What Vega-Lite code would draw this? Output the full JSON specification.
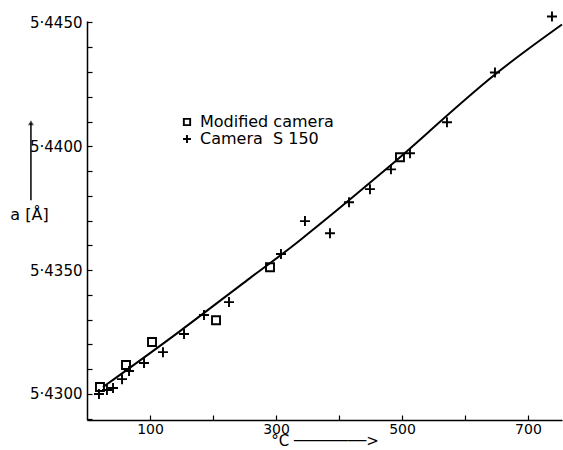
{
  "$schema": "https://vega.github.io/schema/vega-lite/v6.json",
  "width": 475,
  "height": 399,
  "autosize": "none",
  "padding": {"left": 87, "top": 21, "right": 1, "bottom": 30},
  "background": "white",
  "config": {
    "view": {"stroke": null},
    "font": "DejaVu Sans",
    "axis": {
      "grid": false,
      "domainColor": "black",
      "domainWidth": 1.5,
      "tickColor": "black",
      "tickWidth": 1.2,
      "tickSize": -5,
      "labelColor": "black",
      "labelFontSize": 14,
      "titleColor": "black",
      "titleFontWeight": "normal"
    }
  },
  "datasets": {
    "points": [
      {"t": 20.6, "a": 5.43028, "series": "Modified camera"},
      {"t": 61.9, "a": 5.43117, "series": "Modified camera"},
      {"t": 103.2, "a": 5.43210, "series": "Modified camera"},
      {"t": 204.8, "a": 5.43298, "series": "Modified camera"},
      {"t": 290.5, "a": 5.43512, "series": "Modified camera"},
      {"t": 496.8, "a": 5.43956, "series": "Modified camera"},
      {"t": 19.0, "a": 5.43000, "series": "Camera\u00a0 S 150"},
      {"t": 31.7, "a": 5.43016, "series": "Camera\u00a0 S 150"},
      {"t": 41.3, "a": 5.43024, "series": "Camera\u00a0 S 150"},
      {"t": 55.6, "a": 5.43060, "series": "Camera\u00a0 S 150"},
      {"t": 66.7, "a": 5.43093, "series": "Camera\u00a0 S 150"},
      {"t": 90.5, "a": 5.43125, "series": "Camera\u00a0 S 150"},
      {"t": 120.6, "a": 5.43169, "series": "Camera\u00a0 S 150"},
      {"t": 154.0, "a": 5.43242, "series": "Camera\u00a0 S 150"},
      {"t": 185.7, "a": 5.43319, "series": "Camera\u00a0 S 150"},
      {"t": 225.4, "a": 5.43371, "series": "Camera\u00a0 S 150"},
      {"t": 307.9, "a": 5.43565, "series": "Camera\u00a0 S 150"},
      {"t": 346.0, "a": 5.43698, "series": "Camera\u00a0 S 150"},
      {"t": 385.7, "a": 5.43649, "series": "Camera\u00a0 S 150"},
      {"t": 415.9, "a": 5.43774, "series": "Camera\u00a0 S 150"},
      {"t": 449.2, "a": 5.43827, "series": "Camera\u00a0 S 150"},
      {"t": 482.5, "a": 5.43907, "series": "Camera\u00a0 S 150"},
      {"t": 512.7, "a": 5.43972, "series": "Camera\u00a0 S 150"},
      {"t": 571.4, "a": 5.44097, "series": "Camera\u00a0 S 150"},
      {"t": 647.6, "a": 5.44298, "series": "Camera\u00a0 S 150"},
      {"t": 738.1, "a": 5.44524, "series": "Camera\u00a0 S 150"}
    ],
    "curve": [
      {"t": 25.4, "a": 5.43028},
      {"t": 147.6, "a": 5.43254},
      {"t": 258.7, "a": 5.43468},
      {"t": 338.1, "a": 5.43621},
      {"t": 465.1, "a": 5.43887},
      {"t": 544.4, "a": 5.44063},
      {"t": 647.6, "a": 5.44290},
      {"t": 754.0, "a": 5.44492}
    ],
    "arrow": [
      {"t": -89, "a_lo": 5.43782, "a_hi": 5.44095}
    ]
  },
  "layer": [
    {
      "data": {"name": "curve"},
      "mark": {"type": "line", "interpolate": "natural", "color": "black", "strokeWidth": 2},
      "encoding": {
        "x": {
          "field": "t", "type": "quantitative",
          "scale": {"domain": [0, 754], "nice": false, "zero": false},
          "axis": {
            "values": [100, 200, 300, 400, 500, 600, 700],
            "tickCount": 20,
            "labelExpr": "datum.value % 200 == 100 ? datum.label : ''",
            "labelOverlap": false,
            "labelFlush": false,
            "labelPadding": 7,
            "title": "°C ────────>",
            "titleFontSize": 15,
            "titlePadding": -3
          }
        },
        "y": {
          "field": "a", "type": "quantitative",
          "scale": {"domain": [5.42895, 5.44506], "nice": false, "zero": false},
          "axis": {
            "values": [5.429, 5.430, 5.431, 5.432, 5.433, 5.434, 5.435, 5.436, 5.437, 5.438, 5.439, 5.440, 5.441, 5.442, 5.443, 5.444, 5.445],
            "tickCount": 40,
            "labelExpr": "indexof(['5.430','5.435','5.440','5.445'], format(datum.value, '.3f')) >= 0 ? replace(format(datum.value, '.4f'), '.', '·') : ''",
            "labelOverlap": false,
            "labelFlush": false,
            "labelPadding": 10,
            "labelFontSize": 15,
            "title": "a [Å]",
            "titleAngle": 0,
            "titleX": -58,
            "titleY": 193,
            "titleAlign": "center",
            "titleBaseline": "middle",
            "titleFontSize": 16
          }
        }
      }
    },
    {
      "data": {"name": "arrow"},
      "mark": {"type": "rule", "color": "black", "strokeWidth": 1.5},
      "encoding": {
        "x": {"field": "t", "type": "quantitative"},
        "y": {"field": "a_lo", "type": "quantitative"},
        "y2": {"field": "a_hi"}
      }
    },
    {
      "data": {"name": "arrow"},
      "mark": {"type": "point", "shape": "triangle-up", "filled": true, "color": "black", "size": 35},
      "encoding": {
        "x": {"field": "t", "type": "quantitative"},
        "y": {"field": "a_hi", "type": "quantitative"}
      }
    },
    {
      "data": {"name": "points"},
      "mark": {"type": "point", "filled": false, "stroke": "black", "strokeWidth": 1.9, "opacity": 1, "size": 64},
      "encoding": {
        "x": {"field": "t", "type": "quantitative"},
        "y": {"field": "a", "type": "quantitative"},
        "shape": {
          "field": "series", "type": "nominal",
          "scale": {"domain": ["Modified camera", "Camera\u00a0 S 150"], "range": ["square", "M-1.25,0L1.25,0M0,-1.25L0,1.25"]},
          "legend": {
            "orient": "none",
            "legendX": 92,
            "legendY": 93,
            "title": null,
            "padding": 0,
            "labelFontSize": 16,
            "labelColor": "black",
            "labelOffset": 5,
            "symbolSize": 40,
            "symbolStrokeColor": "black",
            "symbolStrokeWidth": 1.9,
            "symbolFillColor": "transparent",
            "rowPadding": 1
          }
        }
      }
    }
  ]
}
